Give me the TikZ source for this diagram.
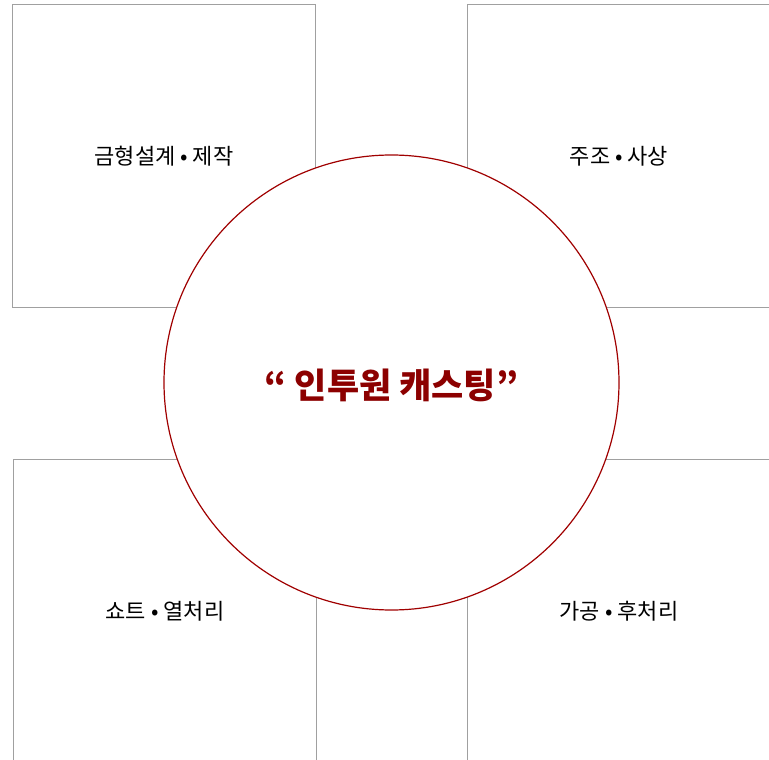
\documentclass[tikz,border=0pt]{standalone}
\usepackage{fontspec}
\newfontfamily\krfont{Noto Sans CJK KR}
\definecolor{boxgray}{RGB}{160,160,160}
\definecolor{corered}{RGB}{160,0,0}
\definecolor{titlered}{RGB}{140,0,0}

\begin{document}
\begin{tikzpicture}[x=1pt,y=-1pt]
    \tikzset{
      StepBox/.style = { rectangle, draw = boxgray, line width = 1.2pt,
                  minimum width = 303pt, minimum height = 303pt, inner sep = 0pt,
                  font = \krfont\fontsize{22}{26}\selectfont },
      CoreStyle/.style = { circle, draw = corered, fill = white, line width = 1.2pt,
                  minimum size = 455pt, inner sep = 0pt },
      TitleStyle/.style = { text = titlered,
                  font = \krfont\bfseries\fontsize{35}{42}\selectfont } }
      \useasboundingbox (0,0) rectangle (769,760);
      \clip (0,0) rectangle (769,760);

      % four steps round the core
      \node[StepBox] (mold)  at (164,156) {금형설계 • 제작};
      \node[StepBox] (cast)  at (619,156) {주조 • 사상};
      \node[StepBox] (shot)  at (165,611) {쇼트 • 열처리};
      \node[StepBox] (mach)  at (619,611) {가공 • 후처리};

      % core
      \node[CoreStyle] (core) at (391.5,382.5) {};
      \node[TitleStyle] (title) at (391.5,385.5) {“ 인투원 캐스팅”};
\end{tikzpicture}
\end{document}
